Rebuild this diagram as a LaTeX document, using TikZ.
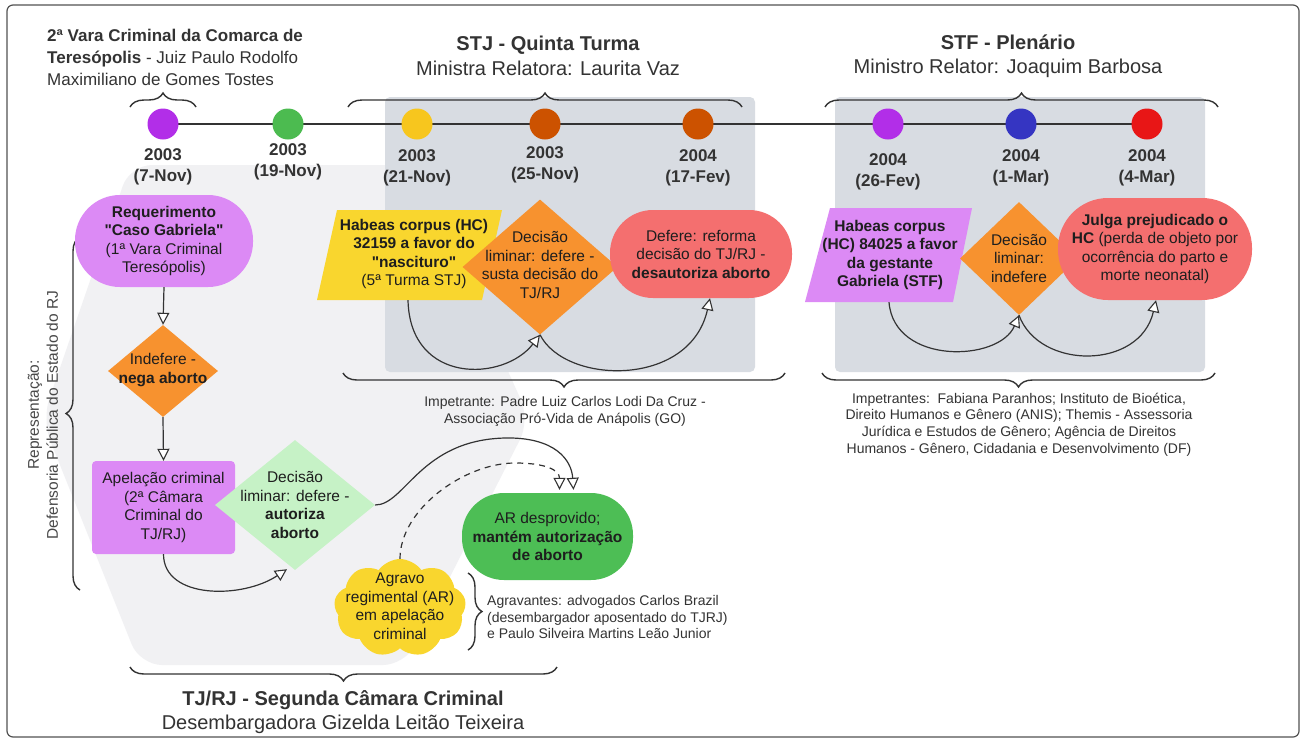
\documentclass[tikz,border=0pt]{standalone}
\usepackage{fontspec}
\setmainfont{Liberation Sans}[Ligatures=TeXOff]
\usetikzlibrary{arrows.meta, shapes.geometric, shapes.symbols, decorations.pathreplacing}

\definecolor{purpnode}{HTML}{DC8AF5}
\definecolor{purpdot}{HTML}{B22EE8}
\definecolor{greendot}{HTML}{4CBB50}
\definecolor{yellowdot}{HTML}{F7C61E}
\definecolor{burnt}{HTML}{CC5200}
\definecolor{bluedot}{HTML}{3535C2}
\definecolor{reddot}{HTML}{E81616}
\definecolor{orangeD}{HTML}{F7922F}
\definecolor{salmon}{HTML}{F46F6F}
\definecolor{lightgreen}{HTML}{C6F2C6}
\definecolor{greenN}{HTML}{4DBE55}
\definecolor{yellowN}{HTML}{F9D62E}
\definecolor{boxgray}{HTML}{D8DCE2}
\definecolor{hexgray}{HTML}{F1F1F3}
\definecolor{ink}{HTML}{1E1E1E}
\definecolor{headc}{HTML}{333333}
\definecolor{linec}{HTML}{333333}

\begin{document}
\begin{tikzpicture}[x=1pt, y=-1pt,
  txt/.style={font=\fontsize{15.5}{18.5}\selectfont, align=center, text=ink, inner sep=0pt},
  smalltxt/.style={font=\fontsize{14}{16.7}\selectfont, align=center, text=headc, inner sep=0pt},
  datetxt/.style={font=\bfseries\fontsize{17}{21}\selectfont, align=center, text=headc, inner sep=0pt},
  headtxt/.style={font=\fontsize{20}{24.5}\selectfont, align=center, text=headc, inner sep=0pt},
  tdot/.style={circle, minimum size=31pt, inner sep=0pt, fill=#1},
  conn/.style={draw=linec, line width=1.2pt, -{Triangle[length=12pt, width=12pt, fill=white, line width=1.1pt]}},
  bracedec/.style={draw=linec, line width=1.4pt, decorate, decoration={brace, amplitude=14pt}},
]
% canvas
\fill[white] (0,0) rectangle (1304,742);
\useasboundingbox (0,0) rectangle (1304,742);
\draw[line width=1.2pt, draw=headc!85, rounded corners=6pt] (7,5) rectangle (1299,737);

% background regions
\fill[hexgray, rounded corners=22pt] (130,165) -- (415,165) -- (530,420) -- (405,665) -- (140,665) -- (42,420) -- cycle;
\fill[boxgray, rounded corners=5pt] (385,97) rectangle (755,372);
\fill[boxgray, rounded corners=5pt] (835,97) rectangle (1205,372);

% headers
\node[anchor=west, font=\fontsize{17}{22}\selectfont, align=left, text=headc, inner sep=0pt] (hdr1) at (47,57)
  {\textbf{2ª Vara Criminal da Comarca de}\\\textbf{Teresópolis} - Juiz Paulo Rodolfo\\Maximiliano de Gomes Tostes};
\node[headtxt] (hdr2) at (548,56) {\textbf{STJ - Quinta Turma}\\Ministra Relatora: Laurita Vaz};
\node[headtxt] (hdr3) at (1008,56) {\textbf{STF - Plenário}\\Ministro Relator: Joaquim Barbosa};
\node[headtxt] (hdr4) at (343,712) {\textbf{TJ/RJ - Segunda Câmara Criminal}\\Desembargadora Gizelda Leitão Teixeira};

% braces
\draw[bracedec] (130,107) -- (196,107);
\draw[bracedec] (348,107) -- (742,107);
\draw[bracedec] (825,107) -- (1218,107);
\draw[bracedec] (785,373) -- (343,373);
\draw[bracedec] (1215,373) -- (822,373);
\draw[bracedec] (557,667) -- (130,667);
\draw[bracedec] (80,590) -- (80,237);
\draw[bracedec] (468,573) -- (468,650);

% brace labels
\node[smalltxt] (imp1) at (565,411.5) {Impetrante: Padre Luiz Carlos Lodi Da Cruz -\\Associação Pró-Vida de Anápolis (GO)};
\node[smalltxt] (imp2) at (1019,424.5) {Impetrantes:\ \ Fabiana Paranhos; Instituto de Bioética,\\Direito Humanos e Gênero (ANIS); Themis - Assessoria\\Jurídica e Estudos de Gênero; Agência de Direitos\\Humanos - Gênero, Cidadania e Desenvolvimento (DF)};
\node[smalltxt, align=left, anchor=west] (agv) at (487,617) {Agravantes: advogados Carlos Brazil\\(desembargador aposentado do TJRJ)\\e Paulo Silveira Martins Leão Junior};
\node[rotate=90, font=\fontsize{15.5}{19}\selectfont, align=center, text=headc!90, inner sep=1pt] (rep) at (43,415) {Representação:\\Defensoria Pública do Estado do RJ};

% timeline
\coordinate (tlA) at (163,124);
\coordinate (tlB) at (1147,124);
\draw[linec, line width=2pt] (tlA) -- (tlB);
\node[tdot=purpdot] (p1) at (163,124) {};
\node[tdot=greendot] (p2) at (288,124) {};
\node[tdot=yellowdot] (p3) at (417,124) {};
\node[tdot=burnt] (p4) at (545,124) {};
\node[tdot=burnt] (p5) at (698,124) {};
\node[tdot=purpdot] (p6) at (888,124) {};
\node[tdot=bluedot] (p7) at (1021,124) {};
\node[tdot=reddot] (p8) at (1147,124) {};

\node[datetxt] (dt1) at (163,166.5) {2003\\(7-Nov)};
\node[datetxt] (dt2) at (288,162) {2003\\(19-Nov)};
\node[datetxt] (dt3) at (417,167.5) {2003\\(21-Nov)};
\node[datetxt] (dt4) at (545,164.5) {2003\\(25-Nov)};
\node[datetxt] (dt5) at (698,167.5) {2004\\(17-Fev)};
\node[datetxt] (dt6) at (888,171.5) {2004\\(26-Fev)};
\node[datetxt] (dt7) at (1021,167.5) {2004\\(1-Mar)};
\node[datetxt] (dt8) at (1147,167.5) {2004\\(4-Mar)};

% ---------- TJ/RJ ----------
\node[fill=purpnode, rounded corners=45pt, minimum width=178pt, minimum height=92pt, txt] (req) at (164,241)
  {\textbf{Requerimento}\\\textbf{"Caso Gabriela"}\\(1ª Vara Criminal\\Teresópolis)};
\node[diamond, fill=orangeD, minimum width=110pt, minimum height=92pt, inner sep=0pt] (ind) at (163,371) {};
\node[fill=purpnode, rounded corners=4pt, minimum width=143pt, minimum height=93pt, txt] (apl) at (163.5,507.5)
  {Apelação criminal\\(2ª Câmara\\Criminal do\\TJ/RJ)};
\node[diamond, fill=lightgreen, minimum width=160pt, minimum height=130pt, inner sep=0pt] (lim) at (295,505) {};
\node[fill=greenN, rounded corners=42pt, minimum width=171pt, minimum height=87pt, txt] (ar) at (547.5,536.5)
  {AR desprovido;\\\textbf{mantém autorização}\\\textbf{de aborto}};
\node[cloud, cloud puffs=9, cloud puff arc=110, cloud ignores aspect, fill=yellowN, minimum width=132pt, minimum height=98pt, inner sep=0pt] (agr) at (400,608) {};

% ---------- STJ ----------
\fill[yellowN] (337,210) -- (502,210) -- (482,300) -- (317,300) -- cycle;
\node[minimum width=185pt, minimum height=90pt, inner sep=0pt] (hc1) at (412,255) {};
\node[diamond, fill=orangeD, minimum width=155pt, minimum height=135pt, inner sep=0pt] (d1) at (540,267) {};
\node[fill=salmon, rounded corners=43pt, minimum width=182pt, minimum height=88pt, txt] (r1) at (701,254)
  {Defere: reforma\\decisão do TJ/RJ -\\\textbf{desautoriza aborto}};

% ---------- STF ----------
\fill[purpnode] (830,208) -- (972,208) -- (953,302) -- (805,302) -- cycle;
\node[minimum width=167pt, minimum height=94pt, inner sep=0pt] (hc2) at (889,255) {};
\node[diamond, fill=orangeD, minimum width=118pt, minimum height=113pt, inner sep=0pt] (d2) at (1019,258.5) {};
\node[fill=salmon, rounded corners=50pt, minimum width=194pt, minimum height=102pt, txt] (r2) at (1155,249)
  {\textbf{Julga prejudicado o}\\\textbf{HC} (perda de objeto por\\ocorrência do parto e\\morte neonatal)};

% texts on shapes
\node[txt] (ind-t) at (163,370) {Indefere -\\\textbf{nega aborto}};
\node[txt] (lim-t) at (295,505) {Decisão\\liminar: defere -\\\textbf{autoriza}\\\textbf{aborto}};
\node[txt] (agr-t) at (400,606) {Agravo\\regimental (AR)\\em apelação\\criminal};
\node[txt] (hc1-t) at (414,254) {\textbf{Habeas corpus (HC)}\\\textbf{32159 a favor do}\\\textbf{"nascituro"}\\(5ª Turma STJ)};
\node[txt] (d1-t) at (540,265) {Decisão\\liminar: defere -\\susta decisão do\\TJ/RJ};
\node[txt] (hc2-t) at (890,255) {\textbf{Habeas corpus}\\\textbf{(HC) 84025 a favor}\\\textbf{da gestante}\\\textbf{Gabriela (STF)}};
\node[txt] (d2-t) at (1019,258) {Decisão\\liminar:\\indefere};

% connectors
\coordinate (arcpk) at (505,438);
\coordinate (dashpk) at (515,463);
\draw[conn] (req.south) -- (ind.north);
\draw[conn] (ind.south) -- (apl.north);
\draw[conn] (apl.south) .. controls +(0,45) and +(-45,30) .. ([shift={(-8,-1)}]lim.south);
\draw[conn] (lim.east) .. controls +(30,0) and +(-85,2) .. (arcpk) .. controls +(50,-1) and +(-2,-30) .. ([shift={(26,-3)}]ar.north);
\draw[conn, dash pattern=on 6pt off 5pt] (agr.north) .. controls +(0,-50) and +(-50,0) .. (dashpk) .. controls +(30,0) and +(0,-20) .. ([shift={(12,-3)}]ar.north);
\draw[conn] ([xshift=-4pt]hc1.south) .. controls +(2,85) and +(-36,47) .. (d1.south);
\draw[conn] (d1.south) .. controls +(25,50) and +(-20,90) .. ([xshift=9pt]r1.south);
\draw[conn] (hc2.south) .. controls +(5,63) and +(-20,47) .. (d2.south);
\draw[conn] (d2.south) .. controls +(20,55) and +(-16,70) .. ([xshift=1pt]r2.south);
\end{tikzpicture}
\end{document}
